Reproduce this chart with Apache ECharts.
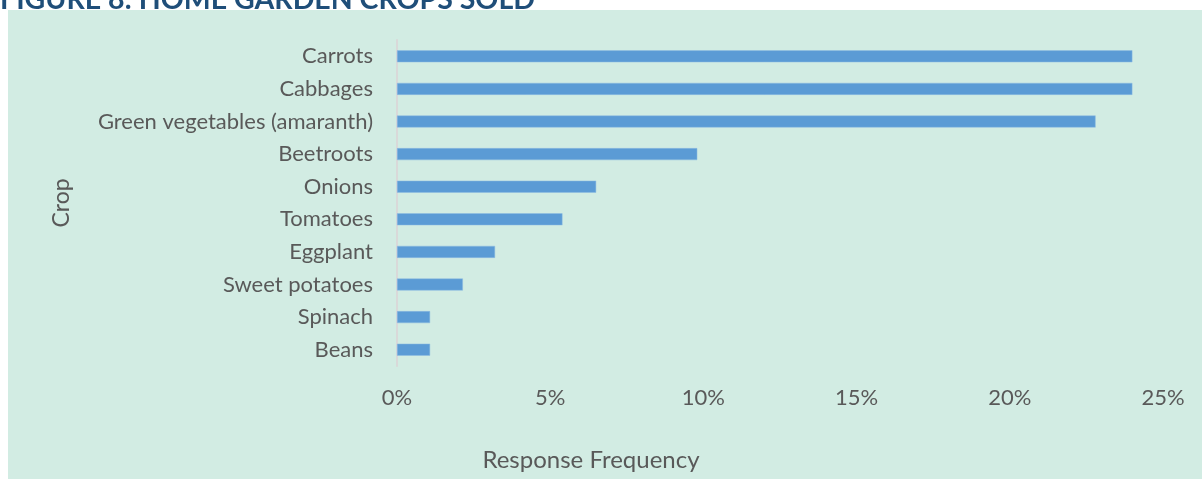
<!DOCTYPE html>
<html>
<head>
<meta charset="utf-8">
<script src="https://cdn.jsdelivr.net/npm/echarts@6/dist/echarts.min.js"></script>
<style>
  html, body { margin: 0; padding: 0; background: #ffffff; }
  #chart { width: 1202px; height: 479px; }
</style>
</head>
<body>
<div id="chart"></div>
<script>
const titleText = 'FIGURE 8: HOME GARDEN CROPS SOLD';
const xAxisName = 'Response Frequency';
const yAxisName = 'Crop';
const crops = ['Carrots', 'Cabbages', 'Green vegetables (amaranth)', 'Beetroots', 'Onions',
  'Tomatoes', 'Eggplant', 'Sweet potatoes', 'Spinach', 'Beans'];
const frequency = [24.0, 24.0, 22.8, 9.8, 6.5, 5.4, 3.2, 2.15, 1.08, 1.08];
const xTicks = { min: 0, max: 25, interval: 5 };

const FONT = 'Lato';
const chart = echarts.init(document.getElementById('chart'), null, { renderer: 'canvas' });
chart.setOption({
  backgroundColor: '#ffffff',
  animation: false,
  graphic: [
    { type: 'rect', z: -10, shape: { x: 8, y: 10, width: 1194, height: 469 },
      style: { fill: '#D2ECE3' } },
    { type: 'text', left: 0, top: -15, z: 10,
      style: { text: titleText, fill: '#1F4E79', font: 'bold 28.5px ' + FONT } },
    { type: 'text', x: 591, y: 460, z: 10,
      style: { text: xAxisName, fill: '#595959', font: '24px ' + FONT, align: 'center', verticalAlign: 'middle' } },
    { type: 'text', x: 62, y: 203, rotation: Math.PI / 2, z: 10,
      style: { text: yAxisName, fill: '#595959', font: '23px ' + FONT, align: 'center', verticalAlign: 'middle' } }
  ],
  grid: { left: 397, right: 39, top: 40, bottom: 113, containLabel: false },
  xAxis: {
    type: 'value', min: xTicks.min, max: xTicks.max, interval: xTicks.interval,
    axisLine: { show: false }, axisTick: { show: false }, splitLine: { show: false },
    axisLabel: { formatter: '{value}%', color: '#595959', fontFamily: FONT, fontSize: 22, margin: 21 }
  },
  yAxis: {
    type: 'category', data: crops, inverse: true,
    axisLine: { show: true, lineStyle: { color: '#D9D9D9', width: 2 } },
    axisTick: { show: false },
    axisLabel: { color: '#595959', fontFamily: FONT, fontSize: 22, margin: 24 }
  },
  series: [{
    type: 'bar', data: frequency, barWidth: 12,
    itemStyle: { color: '#5B9BD5', borderColor: '#8FBCE3', borderWidth: 0.5 }
  }]
});
</script>
</body>
</html>
